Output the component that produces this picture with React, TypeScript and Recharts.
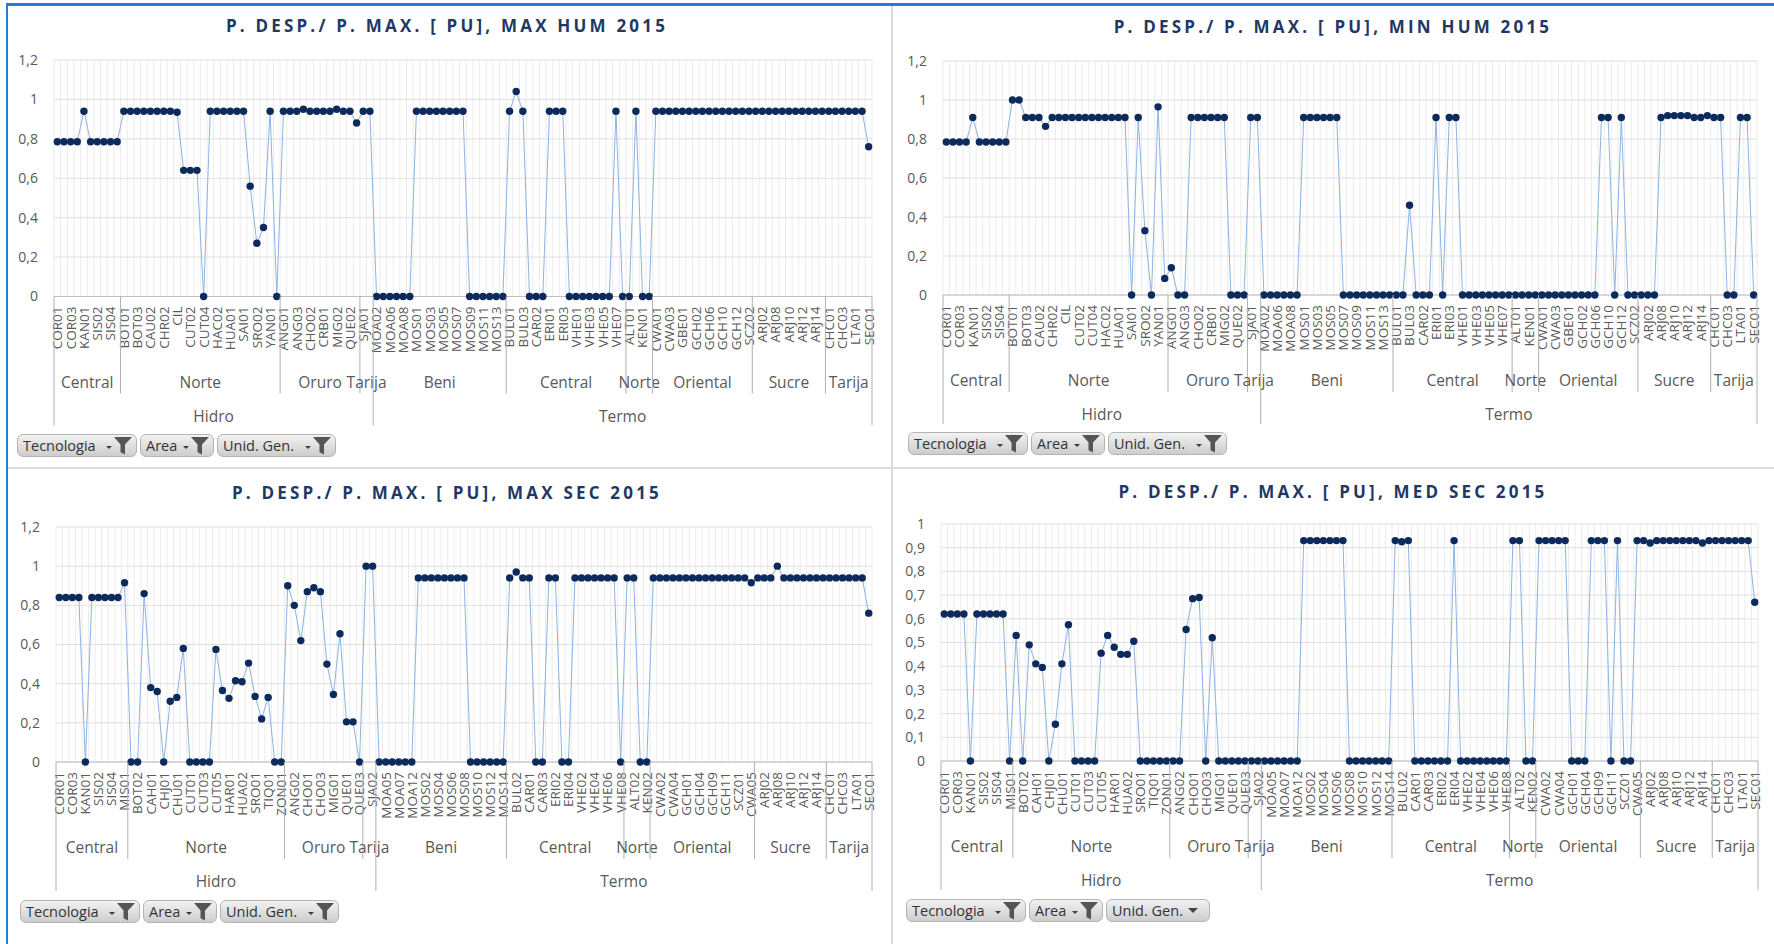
import { LineChart, Line, XAxis, YAxis, CartesianGrid } from 'recharts'

const FONT = '"Open Sans", "DejaVu Sans", sans-serif'
const GRAY_TEXT = '#595959'
const NAVY = '#1f3864'

// generating units, humid season dispatch (123 units)
const humUnits = [
  'COR01', 'COR02', 'COR03', 'COR04', 'KAN01', 'SIS01', 'SIS02', 'SIS03', 'SIS04', 'SIS05',
  'BOT01', 'BOT02', 'BOT03', 'CAU01', 'CAU02', 'CHR01', 'CHR02', 'CHU01', 'CIL', 'CUT01',
  'CUT02', 'CUT03', 'CUT04', 'CUT05', 'HAC02', 'HAR01', 'HUA01', 'HUA02', 'SAI01', 'SRO01',
  'SRO02', 'TIQ01', 'YAN01', 'ZON01',
  'ANG01', 'ANG02', 'ANG03', 'CHO01', 'CHO02', 'CHO03', 'CRB01', 'MIG01', 'MIG02', 'QUE01',
  'QUE02', 'QUE03',
  'SJA01', 'SJA02',
  'MOA02', 'MOA05', 'MOA06', 'MOA07', 'MOA08', 'MOA12', 'MOS01', 'MOS02', 'MOS03', 'MOS04',
  'MOS05', 'MOS06', 'MOS07', 'MOS08', 'MOS09', 'MOS10', 'MOS11', 'MOS12', 'MOS13', 'MOS14',
  'BUL01', 'BUL02', 'BUL03', 'CAR01', 'CAR02', 'CAR03', 'ERI01', 'ERI02', 'ERI03', 'ERI04',
  'VHE01', 'VHE02', 'VHE03', 'VHE04', 'VHE05', 'VHE06', 'VHE07', 'VHE08',
  'ALT01', 'ALT02', 'KEN01', 'KEN02',
  'CWA01', 'CWA02', 'CWA03', 'CWA04', 'GBE01', 'GCH01', 'GCH02', 'GCH04', 'GCH06', 'GCH09',
  'GCH10', 'GCH11', 'GCH12', 'SCZ01', 'SCZ02',
  'ARJ01', 'ARJ02', 'ARJ03', 'ARJ08', 'ARJ09', 'ARJ10', 'ARJ11', 'ARJ12', 'ARJ13', 'ARJ14',
  'ARJ15',
  'CHC01', 'CHC02', 'CHC03', 'CHC04', 'LTA01', 'LTA02', 'SEC01',
]

// generating units, dry season dispatch (125 units)
const secUnits = [
  'COR01', 'COR02', 'COR03', 'COR04', 'KAN01', 'SIS01', 'SIS02', 'SIS03', 'SIS04', 'SIS05',
  'MIS01',
  'BOT01', 'BOT02', 'BOT03', 'CAH01', 'CAU02', 'CHJ01', 'CHR02', 'CHU01', 'CIL', 'CUT01',
  'CUT02', 'CUT03', 'CUT04', 'CUT05', 'HAC02', 'HAR01', 'HUA01', 'HUA02', 'SAI01', 'SRO01',
  'SRO02', 'TIQ01', 'YAN01', 'ZON01',
  'ANG01', 'ANG02', 'ANG03', 'CHO01', 'CHO02', 'CHO03', 'CRB01', 'MIG01', 'MIG02', 'QUE01',
  'QUE02', 'QUE03',
  'SJA01', 'SJA02',
  'MOA02', 'MOA05', 'MOA06', 'MOA07', 'MOA08', 'MOA12', 'MOS01', 'MOS02', 'MOS03', 'MOS04',
  'MOS05', 'MOS06', 'MOS07', 'MOS08', 'MOS09', 'MOS10', 'MOS11', 'MOS12', 'MOS13', 'MOS14',
  'BUL01', 'BUL02', 'BUL03', 'CAR01', 'CAR02', 'CAR03', 'ERI01', 'ERI02', 'ERI03', 'ERI04',
  'VHE01', 'VHE02', 'VHE03', 'VHE04', 'VHE05', 'VHE06', 'VHE07', 'VHE08',
  'ALT01', 'ALT02', 'KEN01', 'KEN02',
  'CWA01', 'CWA02', 'CWA03', 'CWA04', 'GBE01', 'GCH01', 'GCH02', 'GCH04', 'GCH06', 'GCH09',
  'GCH10', 'GCH11', 'GCH12', 'SCZ01', 'SCZ02', 'CWA05',
  'ARJ01', 'ARJ02', 'ARJ03', 'ARJ08', 'ARJ09', 'ARJ10', 'ARJ11', 'ARJ12', 'ARJ13', 'ARJ14',
  'ARJ15',
  'CHC01', 'CHC02', 'CHC03', 'CHC04', 'LTA01', 'LTA02', 'SEC01',
]

const areaNames = ['Central', 'Norte', 'Oruro', 'Tarija', 'Beni', 'Central', 'Norte', 'Oriental', 'Sucre', 'Tarija']
const humAreaSizes = [10, 24, 12, 2, 20, 18, 4, 15, 11, 7]
const secAreaSizes = [11, 24, 12, 2, 20, 18, 4, 16, 11, 7]

const techNames = ['Hidro', 'Termo']
const humTechSizes = [48, 75]
const secTechSizes = [49, 76]

const ticksFifths = [0, 0.2, 0.4, 0.6, 0.8, 1, 1.2]
const ticksTenths = [0, 0.1, 0.2, 0.3, 0.4, 0.5, 0.6, 0.7, 0.8, 0.9, 1]

const maxHum = [
  0.785, 0.785, 0.785, 0.785, 0.94, 0.785, 0.785, 0.785, 0.785, 0.785,
  0.94, 0.94, 0.94, 0.94, 0.94, 0.94, 0.94, 0.94, 0.935, 0.64,
  0.64, 0.64, 0, 0.94, 0.94, 0.94, 0.94, 0.94, 0.94, 0.56,
  0.27, 0.35, 0.94, 0, 0.94, 0.94, 0.94, 0.95, 0.94, 0.94,
  0.94, 0.94, 0.95, 0.94, 0.94, 0.88, 0.94, 0.94, 0, 0,
  0, 0, 0, 0, 0.94, 0.94, 0.94, 0.94, 0.94, 0.94,
  0.94, 0.94, 0, 0, 0, 0, 0, 0, 0.94, 1.04,
  0.94, 0, 0, 0, 0.94, 0.94, 0.94, 0, 0, 0,
  0, 0, 0, 0, 0.94, 0, 0, 0.94, 0, 0,
  0.94, 0.94, 0.94, 0.94, 0.94, 0.94, 0.94, 0.94, 0.94, 0.94,
  0.94, 0.94, 0.94, 0.94, 0.94, 0.94, 0.94, 0.94, 0.94, 0.94,
  0.94, 0.94, 0.94, 0.94, 0.94, 0.94, 0.94, 0.94, 0.94, 0.94,
  0.94, 0.94, 0.76,
]

const minHum = [
  0.785, 0.785, 0.785, 0.785, 0.91, 0.785, 0.785, 0.785, 0.785, 0.785,
  1.0, 1.0, 0.91, 0.91, 0.91, 0.865, 0.91, 0.91, 0.91, 0.91,
  0.91, 0.91, 0.91, 0.91, 0.91, 0.91, 0.91, 0.91, 0, 0.91,
  0.33, 0, 0.965, 0.085, 0.14, 0, 0, 0.91, 0.91, 0.91,
  0.91, 0.91, 0.91, 0, 0, 0, 0.91, 0.91, 0, 0,
  0, 0, 0, 0, 0.91, 0.91, 0.91, 0.91, 0.91, 0.91,
  0, 0, 0, 0, 0, 0, 0, 0, 0, 0,
  0.46, 0, 0, 0, 0.91, 0, 0.91, 0.91, 0, 0,
  0, 0, 0, 0, 0, 0, 0, 0, 0, 0,
  0, 0, 0, 0, 0, 0, 0, 0, 0, 0.91,
  0.91, 0, 0.91, 0, 0, 0, 0, 0, 0.91, 0.92,
  0.92, 0.92, 0.92, 0.91, 0.91, 0.92, 0.91, 0.91, 0, 0,
  0.91, 0.91, 0,
]

const maxSec = [
  0.84, 0.84, 0.84, 0.84, 0, 0.84, 0.84, 0.84, 0.84, 0.84,
  0.915, 0, 0, 0.86, 0.38, 0.36, 0, 0.31, 0.33, 0.58,
  0, 0, 0, 0, 0.575, 0.365, 0.325, 0.415, 0.41, 0.505,
  0.335, 0.22, 0.33, 0, 0, 0.9, 0.8, 0.62, 0.87, 0.89,
  0.87, 0.5, 0.345, 0.655, 0.205, 0.205, 0, 1.0, 1.0, 0,
  0, 0, 0, 0, 0, 0.94, 0.94, 0.94, 0.94, 0.94,
  0.94, 0.94, 0.94, 0, 0, 0, 0, 0, 0, 0.94,
  0.97, 0.94, 0.94, 0, 0, 0.94, 0.94, 0, 0, 0.94,
  0.94, 0.94, 0.94, 0.94, 0.94, 0.94, 0, 0.94, 0.94, 0,
  0, 0.94, 0.94, 0.94, 0.94, 0.94, 0.94, 0.94, 0.94, 0.94,
  0.94, 0.94, 0.94, 0.94, 0.94, 0.94, 0.915, 0.94, 0.94, 0.94,
  1.0, 0.94, 0.94, 0.94, 0.94, 0.94, 0.94, 0.94, 0.94, 0.94,
  0.94, 0.94, 0.94, 0.94, 0.76,
]

const medSec = [
  0.62, 0.62, 0.62, 0.62, 0, 0.62, 0.62, 0.62, 0.62, 0.62,
  0, 0.53, 0, 0.49, 0.41, 0.395, 0, 0.155, 0.41, 0.575,
  0, 0, 0, 0, 0.455, 0.53, 0.48, 0.45, 0.45, 0.505,
  0, 0, 0, 0, 0, 0, 0, 0.555, 0.685, 0.69,
  0, 0.52, 0, 0, 0, 0, 0, 0, 0, 0,
  0, 0, 0, 0, 0, 0.93, 0.93, 0.93, 0.93, 0.93,
  0.93, 0.93, 0, 0, 0, 0, 0, 0, 0, 0.93,
  0.925, 0.93, 0, 0, 0, 0, 0, 0, 0.93, 0,
  0, 0, 0, 0, 0, 0, 0, 0.93, 0.93, 0,
  0, 0.93, 0.93, 0.93, 0.93, 0.93, 0, 0, 0, 0.93,
  0.93, 0.93, 0, 0.93, 0, 0, 0.93, 0.93, 0.92, 0.93,
  0.93, 0.93, 0.93, 0.93, 0.93, 0.93, 0.92, 0.93, 0.93, 0.93,
  0.93, 0.93, 0.93, 0.93, 0.67,
]

type Box = { left: number; top: number; width: number; height: number }
type Plot = { top: number; bottom: number; left: number; right: number }

interface PanelProps {
  title: string
  units: string[]
  values: number[]
  areaSizes: number[]
  techSizes: number[]
  yTicks: number[]
  box: Box
  plot: Plot
  titleX: number
  titleY: number
  buttonsX: number
  buttonsY: number
  unitFilter: boolean
}

const fmtTick = (v: number) => String(Math.round(v * 10) / 10).replace('.', ',')

const starts = (sizes: number[]) => {
  const out: number[] = []
  let acc = 0
  for (const s of sizes) {
    out.push(acc)
    acc += s
  }
  return out
}

function Funnel() {
  return (
    <svg width={28} height={20} style={{ position: 'absolute', right: 3, top: 1 }}>
      <path d="M1 10 h6 l-3 3 z" fill="#3c3c3c" />
      <path d="M9 1 h18 l-7 7.5 v10 l-4.5 -2.2 v-7.8 z" fill="#555" />
    </svg>
  )
}

function FilterButton({ label, width, funnel }: { label: string; width: number; funnel: boolean }) {
  return (
    <div
      style={{
        position: 'relative',
        width,
        height: 23,
        boxSizing: 'border-box',
        border: '1px solid #b4b4b4',
        borderRadius: 6,
        background: 'linear-gradient(#f2f2f2, #cdcdcd)',
        fontFamily: FONT,
        fontSize: 14.5,
        color: '#333',
        lineHeight: '21px',
        paddingLeft: 5,
        marginRight: 3,
      }}
    >
      {label}
      {funnel ? (
        <Funnel />
      ) : (
        <svg width={12} height={8} style={{ position: 'absolute', right: 9, top: 8 }}>
          <path d="M0 0 h10 l-5 5 z" fill="#444" />
        </svg>
      )}
    </div>
  )
}

function Panel(p: PanelProps) {
  const { box, plot, units, values, areaSizes, techSizes } = p
  const n = units.length
  const plotW = box.width - plot.left - plot.right
  const bw = plotW / n
  const axisY = plot.bottom
  const areaStarts = starts(areaSizes)
  const techStarts = starts(techSizes)
  const data = units.map((unit, i) => ({ unit, value: values[i] }))
  const gridX = Array.from({ length: n + 1 }, (_, i) => plot.left + i * bw)

  // three-level category axis: unit names, area groups, technology groups
  const renderTick = (props: any) => {
    const { x, payload } = props
    const i = units.indexOf(payload.value)
    const gx = x - bw / 2
    const parts: any[] = []
    if (i % 2 === 0) {
      parts.push(
        <text
          key="u"
          x={0}
          y={0}
          dy="0.36em"
          transform={`translate(${x},${axisY + 10}) rotate(-90)`}
          textAnchor="end"
          fontSize={13.5}
          fontFamily={FONT}
          fill={GRAY_TEXT}
        >
          {payload.value}
        </text>,
      )
    }
    const ai = areaStarts.indexOf(i)
    if (ai >= 0) {
      const isTech = techStarts.includes(i)
      parts.push(
        <line key="as" x1={gx} x2={gx} y1={axisY} y2={axisY + (isTech ? 129 : 97)} stroke="#b0b0b0" />,
        <text
          key="al"
          x={gx + (areaSizes[ai] * bw) / 2}
          y={axisY + 85}
          dominantBaseline="central"
          textAnchor="middle"
          fontSize={15.5}
          fontFamily={FONT}
          fill={GRAY_TEXT}
        >
          {areaNames[ai]}
        </text>,
      )
    }
    const ti = techStarts.indexOf(i)
    if (ti >= 0) {
      parts.push(
        <text
          key="tl"
          x={gx + (techSizes[ti] * bw) / 2}
          y={axisY + 119}
          dominantBaseline="central"
          textAnchor="middle"
          fontSize={15.5}
          fontFamily={FONT}
          fill={GRAY_TEXT}
        >
          {techNames[ti]}
        </text>,
      )
    }
    if (i === n - 1) {
      parts.push(<line key="end" x1={x + bw / 2} x2={x + bw / 2} y1={axisY} y2={axisY + 129} stroke="#b0b0b0" />)
    }
    return <g>{parts}</g>
  }

  return (
    <div style={{ position: 'absolute', left: box.left, top: box.top, width: box.width, height: box.height }}>
      <LineChart
        width={box.width}
        height={box.height}
        data={data}
        margin={{ top: plot.top, right: plot.right, bottom: 0, left: 0 }}
      >
        <CartesianGrid stroke="#ececec" horizontal={false} verticalPoints={gridX} />
        <CartesianGrid stroke="#e0e0e0" vertical={false} />
        <XAxis
          dataKey="unit"
          type="category"
          interval={0}
          height={box.height - plot.bottom}
          padding={{ left: bw / 2, right: bw / 2 }}
          tick={renderTick}
          tickLine={false}
          axisLine={{ stroke: '#bfbfbf' }}
        />
        <YAxis
          width={plot.left}
          type="number"
          domain={[0, p.yTicks[p.yTicks.length - 1]]}
          ticks={p.yTicks}
          interval={0}
          tickFormatter={fmtTick}
          tick={{ fill: GRAY_TEXT, fontSize: 14, fontFamily: FONT }}
          tickSize={0}
          tickMargin={16}
          axisLine={false}
          tickLine={false}
        />
        <Line
          type="linear"
          dataKey="value"
          stroke="#8db3e2"
          strokeWidth={1}
          dot={{ r: 3.7, fill: '#0c2a5b', stroke: '#0c2a5b', strokeWidth: 0 }}
          isAnimationActive={false}
        />
      </LineChart>
      <div
        style={{
          position: 'absolute',
          left: p.titleX - 300,
          width: 600,
          top: p.titleY - 12,
          textAlign: 'center',
          fontFamily: FONT,
          fontWeight: 700,
          fontSize: 17,
          letterSpacing: 3.2,
          color: NAVY,
          lineHeight: '24px',
        }}
      >
        {p.title}
      </div>
      <div style={{ position: 'absolute', left: p.buttonsX, top: p.buttonsY, display: 'flex' }}>
        <FilterButton label="Tecnologia" width={120} funnel />
        <FilterButton label="Area" width={74} funnel />
        <FilterButton label="Unid. Gen." width={p.unitFilter ? 119 : 104} funnel={p.unitFilter} />
      </div>
    </div>
  )
}

export default function App() {
  return (
    <div
      style={{
        position: 'absolute',
        left: 0,
        top: 0,
        width: 1774,
        height: 944,
        background: '#fff',
        overflow: 'hidden',
      }}
    >
      <div style={{ position: 'absolute', left: 6, top: 3, right: 0, height: 3, background: '#2b7bd0' }} />
      <div style={{ position: 'absolute', left: 6, top: 3, width: 2, bottom: 0, background: '#2b7bd0' }} />
      <div style={{ position: 'absolute', left: 891, top: 6, width: 2, bottom: 0, background: '#dadada' }} />
      <div style={{ position: 'absolute', left: 8, top: 467, right: 0, height: 2, background: '#dadada' }} />

      <Panel
        title="P. DESP./ P. MAX. [ PU], MAX HUM 2015"
        units={humUnits}
        values={maxHum}
        areaSizes={humAreaSizes}
        techSizes={humTechSizes}
        yTicks={ticksFifths}
        box={{ left: 0, top: 0, width: 890, height: 466 }}
        plot={{ top: 60, bottom: 296.5, left: 54, right: 18 }}
        titleX={447}
        titleY={26}
        buttonsX={17}
        buttonsY={434}
        unitFilter
      />
      <Panel
        title="P. DESP./ P. MAX. [ PU], MIN HUM 2015"
        units={humUnits}
        values={minHum}
        areaSizes={humAreaSizes}
        techSizes={humTechSizes}
        yTicks={ticksFifths}
        box={{ left: 890, top: 0, width: 884, height: 466 }}
        plot={{ top: 61, bottom: 295, left: 53, right: 17 }}
        titleX={443}
        titleY={27}
        buttonsX={18}
        buttonsY={432}
        unitFilter
      />
      <Panel
        title="P. DESP./ P. MAX. [ PU], MAX SEC 2015"
        units={secUnits}
        values={maxSec}
        areaSizes={secAreaSizes}
        techSizes={secTechSizes}
        yTicks={ticksFifths}
        box={{ left: 0, top: 468, width: 890, height: 476 }}
        plot={{ top: 59, bottom: 294, left: 56, right: 18 }}
        titleX={447}
        titleY={25}
        buttonsX={20}
        buttonsY={432}
        unitFilter
      />
      <Panel
        title="P. DESP./ P. MAX. [ PU], MED SEC 2015"
        units={secUnits}
        values={medSec}
        areaSizes={secAreaSizes}
        techSizes={secTechSizes}
        yTicks={ticksTenths}
        box={{ left: 890, top: 468, width: 884, height: 476 }}
        plot={{ top: 56, bottom: 293, left: 51, right: 16 }}
        titleX={443}
        titleY={24}
        buttonsX={16}
        buttonsY={431}
        unitFilter={false}
      />
    </div>
  )
}
